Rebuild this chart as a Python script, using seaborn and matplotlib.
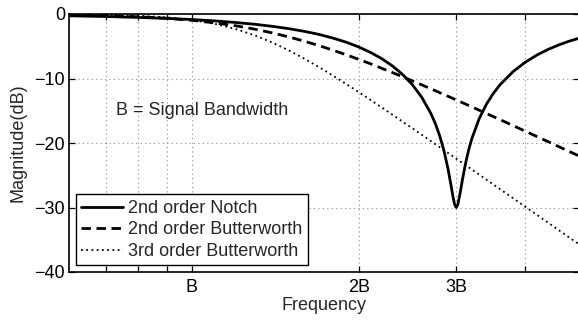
import numpy as np
import pandas as pd
import matplotlib
matplotlib.use("Agg")
import matplotlib.pyplot as plt
import seaborn as sns

# Frequency in units of the signal bandwidth B
freq = [0.60, 0.70, 0.80, 0.90, 1.00, 1.10, 1.20, 1.30, 1.40, 1.50, 1.60, 1.70,
        1.80, 1.90, 2.00, 2.10, 2.20, 2.30, 2.40, 2.50, 2.60, 2.70, 2.75, 2.80,
        2.85, 2.90, 2.93, 2.96, 2.98, 3.00, 3.02, 3.05, 3.08, 3.12, 3.16, 3.20,
        3.30, 3.40, 3.50, 3.60, 3.80, 4.00, 4.20, 4.40, 4.60, 4.80, 5.00]

notch_db = [-0.28, -0.39, -0.53, -0.68, -0.86, -1.07, -1.32, -1.60, -1.92, -2.29, -2.71, -3.19,
            -3.75, -4.38, -5.11, -5.95, -6.91, -8.04, -9.37, -10.96, -12.92, -15.42, -16.98, -18.85,
            -21.14, -24.05, -26.16, -28.35, -29.53, -30.00, -29.54, -27.70, -25.58, -23.08, -21.04, -19.37,
            -16.24, -14.01, -12.31, -10.96, -8.93, -7.46, -6.34, -5.47, -4.78, -4.21, -3.75]

butter2_db = [-0.14, -0.26, -0.43, -0.67, -0.98, -1.37, -1.83, -2.36, -2.95, -3.58, -4.25, -4.93,
              -5.63, -6.33, -7.03, -7.72, -8.41, -9.07, -9.73, -10.37, -10.99, -11.60, -11.89, -12.19,
              -12.48, -12.76, -12.93, -13.10, -13.21, -13.32, -13.43, -13.60, -13.76, -13.97, -14.19, -14.40,
              -14.91, -15.42, -15.91, -16.38, -17.30, -18.18, -19.02, -19.81, -20.58, -21.31, -22.02]

butter3_db = [-0.05, -0.12, -0.26, -0.52, -0.93, -1.53, -2.33, -3.33, -4.46, -5.70, -6.99, -8.29,
              -9.59, -10.87, -12.11, -13.31, -14.47, -15.60, -16.68, -17.72, -18.73, -19.70, -20.17, -20.64,
              -21.10, -21.55, -21.81, -22.08, -22.25, -22.42, -22.60, -22.85, -23.11, -23.44, -23.77, -24.10,
              -24.90, -25.67, -26.43, -27.16, -28.56, -29.90, -31.17, -32.38, -33.54, -34.65, -35.71]

series_names = ["2nd order Notch", "2nd order Butterworth", "3rd order Butterworth"]

xtick_pos = [0.7, 0.8, 0.9, 1, 2, 3, 4]
xtick_labels = ["", "", "", "B", "2B", "3B", ""]
ytick_pos = [0, -10, -20, -30, -40]

sns.set_style("ticks")
plt.rcParams["font.family"] = ["Liberation Sans", "DejaVu Sans"]
plt.rcParams["axes.unicode_minus"] = True

fig = plt.figure(figsize=(5.78, 3.2), dpi=100)
ax = fig.add_axes([69.1 / 578, 48 / 320, 510 / 578, 258 / 320])

df = pd.DataFrame({"freq": freq, "notch": notch_db,
                   "b2": butter2_db, "b3": butter3_db})

sns.lineplot(data=df, x="freq", y="notch", ax=ax, color="black", lw=2.0,
             label=series_names[0], zorder=3)
sns.lineplot(data=df, x="freq", y="b2", ax=ax, color="black", lw=2.0,
             linestyle=(0, (3.4, 2.0)), label=series_names[1], zorder=3)
sns.lineplot(data=df, x="freq", y="b3", ax=ax, color="black", lw=1.3,
             linestyle=(0, (1.0, 1.9)), label=series_names[2], zorder=3)

ax.set_xscale("log")
ax.set_xlim(0.6, 5.0)
ax.set_ylim(-40, 0)
ax.xaxis.set_minor_locator(matplotlib.ticker.NullLocator())
ax.set_xticks(xtick_pos)
ax.set_xticklabels(xtick_labels)
ax.set_yticks(ytick_pos)
ax.set_yticklabels([str(v).replace("-", "\u2212") for v in ytick_pos])

for sp in ax.spines.values():
    sp.set_visible(True)
    sp.set_linewidth(1.2)
    sp.set_color("black")

ax.tick_params(axis="both", which="both", direction="in", length=4.5, width=0.9,
               top=True, right=True, labelsize=13, colors="black")
ax.tick_params(axis="x", pad=5)
ax.tick_params(axis="y", pad=3)

ax.grid(True, which="major", color="#8a8a8a", linestyle=(0, (1, 3)), linewidth=0.8)
ax.set_axisbelow(True)

ax.set_xlabel("Frequency", fontsize=13, va="center")
ax.set_ylabel("Magnitude(dB)", fontsize=13, va="center")
ax.xaxis.set_label_coords(0.5, (272 - 305) / 258)
ax.yaxis.set_label_coords((18 - 69.1) / 510, 0.5)

ax.text(0.73, -14.9, "B = Signal Bandwidth", fontsize=13, ha="left", va="center")

leg = ax.legend(loc="lower left", bbox_to_anchor=((76 - 69.1) / 510, (272 - 265.3) / 258),
                borderaxespad=0, fontsize=13, frameon=True, fancybox=False,
                framealpha=1, edgecolor="black", handlelength=2.3, handletextpad=0.3,
                labelspacing=0.25, borderpad=0.3)
leg.get_frame().set_linewidth(1.0)

fig.savefig("out.png", dpi=100)
